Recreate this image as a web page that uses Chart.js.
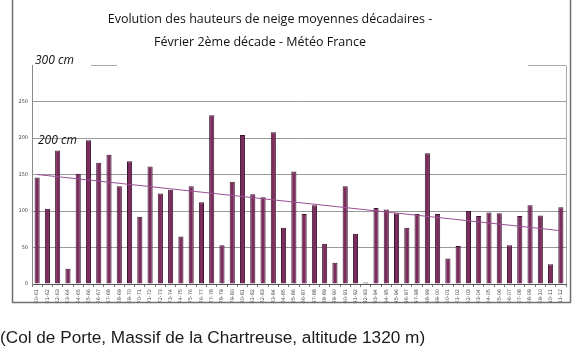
<!DOCTYPE html>
<html>
<head>
<meta charset="utf-8">
<script src="https://cdn.jsdelivr.net/npm/chart.js@4.4.1/dist/chart.umd.min.js"></script>
<style>
  html, body { margin: 0; padding: 0; background: #ffffff; }
  #wrap { width: 585px; height: 356px; position: relative; }
</style>
</head>
<body>
<div id="wrap"><canvas id="c" width="585" height="356"></canvas></div>
<script>
// ---- Data ----
const seasons = ["60-61","61-62","62-63","63-64","64-65","65-66","66-67","67-68","68-69","69-70",
  "70-71","71-72","72-73","73-74","74-75","75-76","76-77","77-78","78-79","79-80",
  "80-81","81-82","82-83","83-84","84-85","85-86","86-87","87-88","88-89","89-90",
  "90-91","91-92","92-93","93-94","94-95","95-96","96-97","97-98","98-99","99-00",
  "00-01","01-02","02-03","03-04","04-05","05-06","06-07","07-08","08-09","09-10",
  "10-11","11-12"];
const snowHeights = [146,103,183,21,151,197,166,177,134,168,
  92,161,124,129,65,134,112,231,53,140,
  204,123,119,208,77,154,96,108,55,29,
  134,69,2,104,102,97,77,96,179,96,
  35,52,100,93,98,97,53,93,108,94,
  27,105];
const trendStart = 150;   // trend line value at first season
const trendEnd = 73;      // trend line value at last season
const yTicks = [0,50,100,150,200,250,300];

const titleLines = ["Evolution des hauteurs de neige moyennes décadaires -", "Février 2ème décade - Météo France"];
const caption = "(Col de Porte, Massif de la Chartreuse, altitude 1320 m)";

const trendData = seasons.map((s, i) => i === 0 ? trendStart : (i === seasons.length - 1 ? trendEnd : null));

const decor = {
  id: 'decor',
  afterDraw(chart) {
    const ctx = chart.ctx;
    const y = chart.scales.y;
    const area = chart.chartArea;
    ctx.save();
    // outer frame
    ctx.strokeStyle = '#707070';
    ctx.lineWidth = 1.5;
    ctx.strokeRect(12.5, -2, 558, 304.5);
    // title
    ctx.fillStyle = '#111';
    ctx.textAlign = 'center';
    ctx.textBaseline = 'middle';
    ctx.font = '12.5px "Open Sans", sans-serif';
    ctx.fillText(titleLines[0], 270, 19);
    ctx.fillText(titleLines[1], 260, 42);
    // cm labels
    ctx.textAlign = 'left';
    ctx.font = 'italic 12px "Open Sans", sans-serif';
    ctx.fillText('300 cm', 35, y.getPixelForValue(300) - 4);
    ctx.fillText('200 cm', 38, y.getPixelForValue(200) + 3);
    // remaining fragments of the 300 line
    ctx.strokeStyle = '#a8a8a8';
    ctx.lineWidth = 1;
    const p300 = Math.round(y.getPixelForValue(300)) + 0.5;
    ctx.beginPath();
    ctx.moveTo(91, p300); ctx.lineTo(117, p300);
    ctx.moveTo(528, p300); ctx.lineTo(area.right, p300);
    ctx.moveTo(area.right + 0.5, p300); ctx.lineTo(area.right + 0.5, area.bottom);
    ctx.stroke();
    // caption
    ctx.fillStyle = '#1a1a1a';
    ctx.font = '17.2px "Liberation Sans", Arial, sans-serif';
    ctx.textBaseline = 'alphabetic';
    ctx.fillText(caption, 0, 343);
    ctx.restore();
  }
};

new Chart(document.getElementById('c'), {
  type: 'bar',
  data: {
    labels: seasons,
    datasets: [
      {
        type: 'line',
        data: trendData,
        spanGaps: true,
        borderColor: '#9a5096',
        borderWidth: 1,
        pointRadius: 0,
        order: 0
      },
      {
        type: 'bar',
        data: snowHeights,
        backgroundColor: '#7c2c5c',
        borderColor: '#3c1630',
        borderWidth: 1,
        barPercentage: 0.5,
        categoryPercentage: 1.0,
        order: 1
      }
    ]
  },
  options: {
    responsive: false,
    animation: false,
    devicePixelRatio: 1,
    layout: { padding: { left: 0, right: 19, top: 65, bottom: 52 } },
    plugins: { legend: { display: false }, title: { display: false }, tooltip: { enabled: false } },
    scales: {
      x: {
        offset: true,
        grid: { display: true, drawOnChartArea: false, drawTicks: true, tickLength: 3, color: '#777', offset: true },
        border: { display: true, color: '#555', width: 1 },
        ticks: {
          autoSkip: false, maxRotation: 90, minRotation: 90,
          font: { size: 5, family: 'DejaVu Sans' }, color: '#444', padding: 2
        },
        afterFit(s) { s.height = 20; }
      },
      y: {
        min: 0, max: 300,
        afterBuildTicks(s) { s.ticks = yTicks.map(v => ({ value: v })); },
        grid: {
          color: (c) => (c.tick && (c.tick.value === 300 || c.tick.value === 0)) ? 'rgba(0,0,0,0)' : '#9a9a9a',
          drawTicks: false
        },
        border: { display: true, color: '#8a8a8a', width: 1 },
        ticks: {
          font: { size: 5, family: 'DejaVu Sans' }, color: '#444', padding: 4,
          callback: (v) => v === 300 ? '' : v
        },
        afterFit(s) { s.width = 32; }
      }
    }
  },
  plugins: [decor]
});
</script>
</body>
</html>
